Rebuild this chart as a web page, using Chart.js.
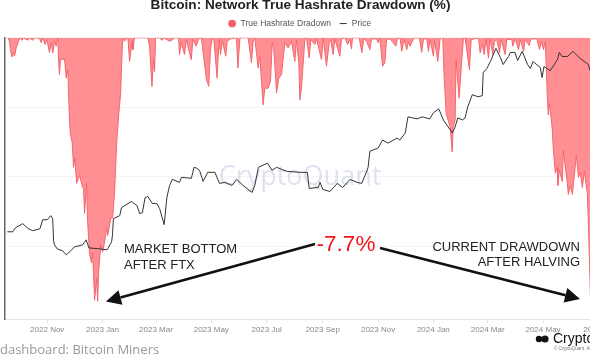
<!DOCTYPE html>
<html>
<head>
<meta charset="utf-8">
<script src="https://cdn.jsdelivr.net/npm/chart.js@4"></script>
<style>
  html, body { margin: 0; padding: 0; background: #fff; overflow: hidden; width: 590px; height: 354px; }
  #wrap { position: absolute; left: 0; top: 0; width: 640px; height: 354px; filter: blur(0.4px); }
</style>
</head>
<body>
<div id="wrap"><canvas id="chart"></canvas></div>
<script>
// x values are days counted from 2022-09-01
const tickDays = [61, 122, 181, 242, 303, 365, 426, 487, 547, 608, 669];
const tickLabels = ['2022 Nov', '2023 Jan', '2023 Mar', '2023 May', '2023 Jul', '2023 Sep', '2023 Nov', '2024 Jan', '2024 Mar', '2024 May', '2024 Jul'];

const drawdownDays = [
  17.5, 19.3, 20.4, 21.9, 23.8, 24.9, 26.7, 29.3, 31.1, 33.3, 34.8, 39.6, 41.4, 45.1, 46.6, 52.5, 54.3, 56.1, 58.7, 60.6,
  63.5, 65.3, 67.2, 69, 70.9, 72.7, 73.4, 74.5, 75.6, 80.1, 81.9, 83.7, 84.8, 85.6, 86.4, 88.6, 90, 91.5, 93.4, 96.7,
  100, 101, 102.2, 104.4, 105.5, 107.8, 110, 111, 113.3, 115.5, 116.6, 117.7, 120, 122.1, 124.3, 126.5, 127.6, 131, 133.2, 135.4,
  137.6, 139.8, 142, 144.2, 146.3, 148.1, 150, 151.8, 154.8, 155.5, 157.3, 172, 173.9, 176.5, 178.3, 179.4, 180.5, 184.9, 187.5, 189.4,
  194.1, 196.7, 201.5, 205.9, 207, 208.9, 212.5, 214.4, 219.9, 221.7, 225.4, 228, 231.1, 233, 236.7, 239.2, 241.1, 242.9, 244.8, 248.4,
  250.6, 252.1, 254.3, 258, 259.5, 263.2, 269.8, 271.3, 273.5, 275.3, 282.7, 286.3, 288.2, 290, 293.7, 295.5, 299.2, 301, 304.7, 307.3,
  309.2, 311, 314, 316.5, 319.5, 323.1, 326.8, 330.5, 334.2, 336, 338.6, 339.7, 341.5, 345.2, 347.1, 350, 351.8, 356.3, 358.1, 363.6,
  365.5, 369.1, 372.1, 373.6, 376.5, 378.3, 383.9, 385.7, 389.4, 392.3, 394.9, 396.7, 397.8, 405.2, 408.1, 410.4, 413.3, 417, 418.8, 424.3,
  426.2, 428, 431, 433.5, 435.4, 439.1, 445.7, 447.2, 450.3, 452.1, 454.7, 457.7, 459.5, 461.3, 465, 466.9, 471.6, 474.2, 476.1, 479.7,
  481.6, 483.4, 487.1, 488.2, 491.9, 494.5, 496.3, 497.4, 498.9, 501.1, 503.3, 505.6, 507.8, 508.9, 511, 512.1, 515.4, 518.4, 520.2, 522,
  522.8, 526.8, 528.7, 536.8, 538.6, 541.2, 543, 545.2, 547.8, 549.7, 552.6, 554.4, 557, 560, 561.8, 566.2, 568, 573.6, 574.7, 577.3,
  581, 582.8, 586.5, 588.3, 592.7, 594.6, 601.2, 604.1, 606, 608.5, 610.4, 611.6, 612.7, 613.8, 615, 617.2, 618.3, 619.4, 621.6, 623.8,
  624.3, 626, 629.3, 630.4, 634.8, 636, 638.2, 640.4, 644.8, 647, 649.2, 651.4, 653.6, 656.9, 658, 660.3, 662
];
const drawdownValues = [
  0, -.1, -.34, -.55, -.43, -.53, -.29, -.1, 0, -.07, 0, -.07, 0, -.07, 0, -.01, -.14, 0, -.19, -.05,
  -.43, -.14, -.43, -.1, -.24, 0, -.58, -1.06, -.63, -.61, -1.16, -.92, -1.79, -2.37, -2.74, -3.03, -3.73, -3.47, -4.19, -3.96,
  -4.31, -4.34, -5.06, -4.19, -5.27, -6.25, -6.48, -6.17, -7.56, -6.92, -7.59, -6.75, -5.96, -6.17, -5.88, -5.47, -5.7, -5.21, -5.18, -4.4,
  -3.03, -2.22, -1.59, -.02, -.1, -.03, 0, -.68, -.1, -.34, 0, 0, -.24, -1.4, -.63, -.97, 0, 0, -.07, 0,
  -.07, -.1, 0, 0, -.48, -.14, -.48, -.05, -.63, -.05, -.24, -.03, 0, -.43, -1.21, -1.4, -.34, -.03, -.05, -1.16,
  -.03, -.48, -.1, -.53, -.1, -.03, 0, -.87, -.05, 0, 0, -.72, -.1, 0, -.87, -.53, -1.93, -1.45, -1.45, -1.26,
  -.14, -.34, -1.59, -1.16, -1.06, -.14, -.29, -.1, -.68, -.05, -.72, -1.79, -1.45, -.05, 0, -.58, -.05, -.19, -.03, -.63,
  0, -.82, -.14, -.05, -.48, -.03, -.53, -.03, 0, -.19, -.05, -.32, 0, 0, -.43, -.03, -.1, -.34, -.03, -.03,
  -.14, 0, -.82, -.72, -.05, -.03, -.24, -.03, 0, -.39, -.05, -.34, -.1, -.24, -.03, 0, 0, -.42, -.03, -.03,
  -.39, -.05, -.53, -.05, -.68, -.03, 0, 0, -1.12, -2.17, -2.37, -2.57, -3.29, -2.57, -2.37, -.63, -1.74, -.63, 0, 0,
  -.14, -.92, -.05, 0, -.43, -.19, -.48, -.03, -.58, -.03, -.48, -.1, -.05, -.43, -.05, -.48, -.05, -.05, -.24, -.03,
  -.34, -.05, -.39, -.05, -.22, -.03, -.03, -.34, -.1, -.34, -.1, -.83, -1.7, -2.22, -1.88, -2.37, -2.66, -3.24, -3.9, -3.73,
  -4.25, -3.82, -4.14, -3.24, -4.19, -4.51, -4.25, -4.51, -3.38, -4.02, -3.88, -4.31, -3.85, -4.48, -5.27, -7.44, -7.7
];

const priceDays = [
  17, 23, 26, 34, 40, 45, 53, 56, 61, 65, 67, 68, 69, 72, 78, 82, 88, 91, 100, 104,
  107, 119, 127, 132, 133, 134, 141, 143, 154, 160, 163, 166, 169, 172, 177, 182, 185, 190, 193, 196,
  199, 207, 209, 220, 223, 226, 229, 233, 238, 246, 251, 257, 265, 270, 277, 287, 290, 294, 304, 309,
  314, 325, 340, 348, 350, 360, 362, 365, 373, 381, 387, 395, 403, 408, 414, 415, 417, 426, 431, 437,
  447, 450, 456, 459, 464, 469, 475, 483, 487, 493, 498, 508, 511, 514, 519, 522, 525, 530, 536, 541,
  542, 546, 550, 556, 561, 564, 570, 572, 577, 580, 585, 591, 594, 597, 605, 607, 609, 616, 624, 626,
  629, 635, 641, 649, 658, 660
];
const priceValues = [
  18200, 18200, 18770, 19350, 18630, 18350, 18630, 19940, 19940, 20560, 20100, 17000, 16490, 16000, 15760, 15290, 15880, 16240, 16490, 17130,
  16120, 16000, 15880, 16860, 17800, 20100, 20560, 21850, 22870, 22180, 20880, 21030, 23570, 23750, 22520, 22520, 21680, 19200, 23570, 25820,
  27020, 26420, 27440, 27240, 29610, 29390, 28940, 26620, 28500, 28500, 26220, 26420, 25820, 27020, 25820, 24490, 25820, 29610, 30530, 28940,
  29610, 28720, 28500, 28500, 25240, 25430, 26420, 25050, 24670, 26220, 25430, 27020, 26420, 26220, 28940, 29610, 33440, 34210, 36360, 35530,
  36910, 36360, 38340, 43300, 42970, 42640, 43300, 42640, 44640, 46000, 42320, 38340, 40130, 42970, 42320, 42970, 46720, 51200, 50400, 50780,
  60480, 62350, 65760, 72580, 67790, 64260, 68290, 70400, 70400, 66240, 70930, 64260, 62350, 65760, 62830, 58240, 63300, 61400, 66780, 70400,
  68290, 68290, 70930, 67280, 64260, 61400
];

const arrows = [
  { from: [315, 244], to: [106, 301.5] },
  { from: [380, 248], to: [580, 299] }
];

// title and legend are centred on a 596px wide picture
const shiftHeader = {
  id: 'shiftHeader',
  afterLayout(chart) {
    [chart.titleBlock, chart.legend].forEach(b => { b.left -= 22; b.right -= 22; });
    chart.legend.left -= 1; chart.legend.right -= 1;
  }
};

const overlay = {
  id: 'overlay',
  beforeDatasetsDraw(chart) {
    const c = chart.ctx;
    c.save();
    c.fillStyle = 'rgba(185,190,220,0.45)';
    c.font = '27px "Open Sans", sans-serif';
    c.textAlign = 'center';
    c.textBaseline = 'middle';
    c.fillText('CryptoQuant', 300, 177);
    c.restore();
  },
  afterDraw(chart) {
    const c = chart.ctx;
    c.save();
    c.textBaseline = 'middle';
    c.fillStyle = '#222';
    c.font = '13px "Liberation Sans"';
    c.textAlign = 'left';
    c.fillText('MARKET BOTTOM', 124, 249);
    c.fillText('AFTER FTX', 124, 265);
    c.textAlign = 'right';
    c.fillText('CURRENT DRAWDOWN', 580, 247);
    c.fillText('AFTER HALVING', 580, 262);
    c.fillStyle = '#f5141a';
    c.font = '22.5px "Liberation Sans"';
    c.textAlign = 'center';
    c.fillText('-7.7%', 346, 245);

    c.strokeStyle = '#111';
    c.fillStyle = '#111';
    arrows.forEach(a => {
      const ang = Math.atan2(a.to[1] - a.from[1], a.to[0] - a.from[0]);
      const bx = a.to[0] - 15 * Math.cos(ang), by = a.to[1] - 15 * Math.sin(ang);
      c.lineWidth = 2.6;
      c.beginPath(); c.moveTo(a.from[0], a.from[1]); c.lineTo(bx, by); c.stroke();
      c.beginPath();
      c.moveTo(a.to[0], a.to[1]);
      c.lineTo(bx + 7.5 * Math.sin(ang), by - 7.5 * Math.cos(ang));
      c.lineTo(bx - 7.5 * Math.sin(ang), by + 7.5 * Math.cos(ang));
      c.closePath(); c.fill();
    });

    c.textAlign = 'left';
    c.fillStyle = '#111';
    c.font = '14px "Liberation Sans"';
    c.fillText('Cryptoquant', 553, 339);
    c.beginPath(); c.arc(539, 339, 3.2, 0, Math.PI * 2); c.arc(545, 339, 3.6, 0, Math.PI * 2); c.fill();
    c.fillStyle = '#777';
    c.font = '4.5px "Liberation Sans"';
    c.fillText('© CryptoQuant. All Rights Reserved.', 554, 349);
    c.fillStyle = '#999';
    c.font = '13px "Open Sans"';
    c.fillText('dashboard: Bitcoin Miners', 0, 350);
    c.restore();
  }
};

new Chart(document.getElementById('chart'), {
  type: 'line',
  data: {
    datasets: [
      {
        label: 'True Hashrate Dradown',
        data: drawdownDays.map((d, i) => ({ x: d, y: drawdownValues[i] })),
        yAxisID: 'y',
        order: 2,
        borderColor: '#f4666e',
        borderWidth: 1,
        backgroundColor: 'rgba(255,90,96,0.68)',
        fill: { value: 0 },
        tension: 0,
        pointRadius: 0,
        pointStyle: 'circle'
      },
      {
        label: 'Price',
        data: priceDays.map((d, i) => ({ x: d, y: priceValues[i] })),
        yAxisID: 'price',
        order: 1,
        borderColor: '#333',
        borderWidth: 1,
        backgroundColor: '#333',
        fill: false,
        tension: 0,
        pointRadius: 0,
        pointStyle: 'line'
      }
    ]
  },
  options: {
    responsive: true,
    maintainAspectRatio: false,
    animation: false,
    layout: { padding: { left: 5, right: 0, top: -3, bottom: 17 } },
    plugins: {
      title: {
        display: true,
        text: 'Bitcoin: Network True Hashrate Drawdown (%)',
        color: '#222',
        font: { family: '"Liberation Sans"', size: 13.6, weight: 'bold' },
        padding: { top: 0, bottom: -2 }
      },
      legend: {
        display: true,
        labels: {
          usePointStyle: true,
          boxHeight: 5,
          color: '#555',
          font: { family: '"Liberation Sans"', size: 8.5 },
          padding: 8,
          sort: (a, b) => a.datasetIndex - b.datasetIndex,
          generateLabels(chart) {
            return Chart.defaults.plugins.legend.labels.generateLabels(chart).map(l => {
              if (l.text !== 'Price') { l.fillStyle = '#f4606a'; l.strokeStyle = '#f4606a'; }
              return l;
            });
          }
        }
      },
      tooltip: { enabled: false }
    },
    scales: {
      x: {
        type: 'linear',
        min: 14.4,
        max: 715,
        afterBuildTicks(axis) { axis.ticks = tickDays.map(v => ({ value: v })); },
        grid: { drawOnChartArea: false, color: '#e4e4e4', tickLength: 4 },
        border: { color: '#e4e4e4' },
        ticks: {
          autoSkip: false,
          maxRotation: 0,
          color: '#888',
          font: { family: '"Liberation Sans"', size: 8 },
          padding: 2,
          callback(v) { return tickLabels[tickDays.indexOf(v)]; }
        }
      },
      y: {
        min: -8.11,
        max: 0,
        grid: { color: '#f5f5f5', drawTicks: false },
        border: { color: '#666', width: 1.5 },
        ticks: { stepSize: 2, display: false }
      },
      price: {
        type: 'logarithmic',
        min: 9400,
        max: 78600,
        display: false
      }
    }
  },
  plugins: [shiftHeader, overlay]
});
</script>
</body>
</html>
